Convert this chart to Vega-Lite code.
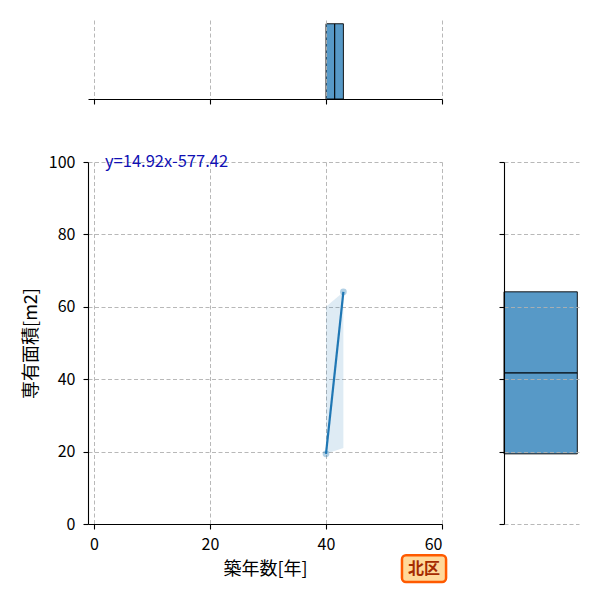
{
  "$schema": "https://vega.github.io/schema/vega-lite/v6.json",
  "background": "white",
  "padding": {"left": 22, "top": 20, "right": 5, "bottom": 5},
  "bounds": "flush",
  "spacing": 63,
  "datasets": {
    "pts": [
      {"age": 40, "area": 19.38},
      {"age": 43, "area": 64.14}
    ],
    "band": [
      {"age": 40, "lo": 19.4, "hi": 60.0},
      {"age": 43, "lo": 21.0, "hi": 64.1}
    ],
    "histx": [
      {"b0": 40, "b1": 41.5, "count": 1},
      {"b0": 41.5, "b1": 43, "count": 1}
    ],
    "histy": [
      {"b0": 19.38, "b1": 41.76, "count": 1},
      {"b0": 41.76, "b1": 64.14, "count": 1}
    ]
  },
  "vconcat": [
    {
      "width": 354,
      "height": 79,
      "data": {"name": "histx"},
      "mark": {"type": "rect", "color": "#1f77b4", "fillOpacity": 0.75, "stroke": "black", "strokeWidth": 0.9},
      "encoding": {
        "x": {
          "field": "b0", "type": "quantitative",
          "scale": {"domain": [-1.03, 60], "nice": false, "zero": false},
          "axis": {"values": [0, 20, 40, 60], "labels": false, "title": null, "grid": true, "zindex": 1}
        },
        "x2": {"field": "b1"},
        "y": {"field": "count", "type": "quantitative", "scale": {"domain": [0, 1.05]}, "axis": null},
        "y2": {"datum": 0}
      }
    },
    {
      "bounds": "flush",
      "spacing": 62,
      "hconcat": [
        {
          "width": 354,
          "height": 362,
          "layer": [
            {
              "data": {"name": "band"},
              "mark": {"type": "area", "color": "#1f77b4", "opacity": 0.15},
              "encoding": {
                "x": {
                  "field": "age", "type": "quantitative",
                  "scale": {"domain": [-1.03, 60], "nice": false, "zero": false},
                  "axis": {"values": [0, 20, 40, 60], "title": "築年数[年]", "grid": true, "labelPadding": 7}
                },
                "y": {
                  "field": "lo", "type": "quantitative",
                  "scale": {"domain": [0, 100], "nice": false},
                  "axis": {"values": [0, 20, 40, 60, 80, 100], "title": "専有面積[m2]", "grid": true}
                },
                "y2": {"field": "hi"}
              }
            },
            {
              "data": {"name": "pts"},
              "mark": {"type": "circle", "color": "#1f77b4", "opacity": 0.35, "size": 45},
              "encoding": {
                "x": {"field": "age", "type": "quantitative"},
                "y": {"field": "area", "type": "quantitative"}
              }
            },
            {
              "data": {"name": "pts"},
              "mark": {"type": "line", "color": "#1f77b4", "strokeWidth": 2.2},
              "encoding": {
                "x": {"field": "age", "type": "quantitative"},
                "y": {"field": "area", "type": "quantitative"}
              }
            },
            {
              "data": {"values": [{"eq": "y=14.92x-577.42"}]},
              "mark": {"type": "text", "align": "left", "baseline": "middle", "color": "#1010b4", "fontSize": 16.5, "font": "Noto Sans CJK JP"},
              "encoding": {
                "x": {"datum": 1.9},
                "y": {"datum": 100},
                "text": {"field": "eq"}
              }
            },
            {
              "data": {"values": [{"ward": "北区"}]},
              "mark": {"type": "rect", "fill": "#ffd99b", "stroke": "#ff5a00", "strokeWidth": 2.5, "cornerRadius": 4},
              "encoding": {
                "x": {"datum": 53.1},
                "x2": {"datum": 60.7},
                "y": {"datum": -8.6},
                "y2": {"datum": -16.0}
              }
            },
            {
              "data": {"values": [{"ward": "北区"}]},
              "mark": {"type": "text", "align": "center", "baseline": "middle", "color": "#a52a00", "fontSize": 16, "fontWeight": "bold", "font": "Noto Sans CJK JP"},
              "encoding": {
                "x": {"datum": 56.9},
                "y": {"datum": -12.3},
                "text": {"field": "ward"}
              }
            }
          ]
        },
        {
          "width": 75,
          "height": 362,
          "data": {"name": "histy"},
          "mark": {"type": "rect", "color": "#1f77b4", "fillOpacity": 0.75, "stroke": "black", "strokeWidth": 0.9},
          "encoding": {
            "y": {
              "field": "b0", "type": "quantitative",
              "scale": {"domain": [0, 100], "nice": false},
              "axis": {"values": [0, 20, 40, 60, 80, 100], "labels": false, "title": null, "grid": true, "zindex": 1}
            },
            "y2": {"field": "b1"},
            "x": {"field": "count", "type": "quantitative", "scale": {"domain": [0, 1.023]}, "axis": null},
            "x2": {"datum": 0}
          }
        }
      ]
    }
  ],
  "config": {
    "view": {"stroke": null},
    "font": "Noto Sans CJK JP",
    "axis": {
      "domainColor": "black",
      "domainWidth": 1.1,
      "tickColor": "black",
      "tickWidth": 1.1,
      "tickSize": 5,
      "labelColor": "black",
      "labelFont": "Noto Sans CJK JP",
      "labelFontSize": 16,
      "labelPadding": 8,
      "titleFont": "Noto Sans CJK JP",
      "titleFontSize": 18,
      "titleFontWeight": "normal",
      "titleColor": "black",
      "titlePadding": 8,
      "gridColor": "#b0b0b0",
      "gridDash": [4, 2.5],
      "gridWidth": 0.9
    }
  }
}
